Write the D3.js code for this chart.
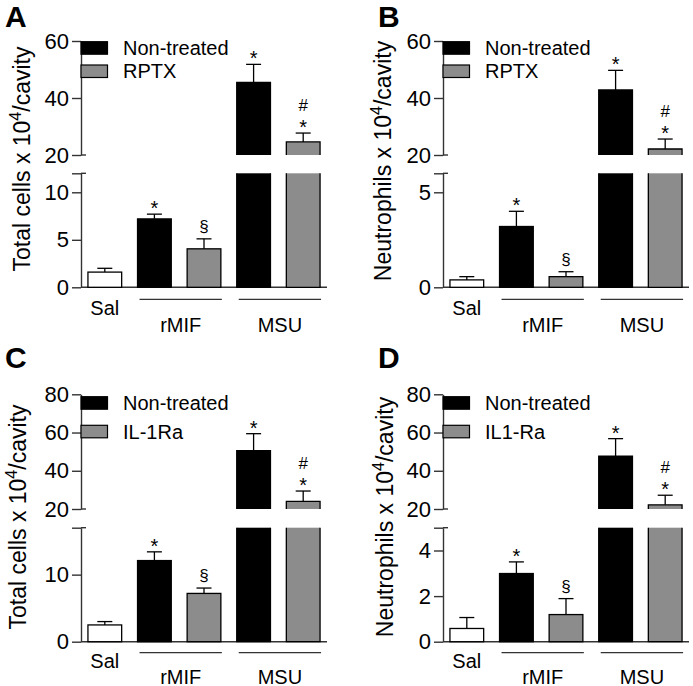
<!DOCTYPE html>
<html>
<head>
<meta charset="utf-8">
<script src="https://cdn.jsdelivr.net/npm/d3@7"></script>
<style>
	body { margin: 0; background: #fff; }
	svg text { font-family: "Liberation Sans", Arial, Helvetica, sans-serif; fill: #000; }
</style>
</head>
<body>
<div id="plot"></div>
<script>
	const w = 693;
	const h = 686;

	// data
	const barKeys = ["Sal", "rMIF_nt", "rMIF_tr", "MSU_nt", "MSU_tr"];
	const groupLabels = ["Sal", "rMIF", "MSU"];
	const panelLetters = ["A", "B", "C", "D"];
	const yTitles = ["Total cells", "Neutrophils", "Total cells", "Neutrophils"];
	const untreatedLabel = "Non-treated";
	const treatedLabels = ["RPTX", "RPTX", "IL-1Ra", "IL1-Ra"];

	const meansA = [1.6, 7.2, 4.05, 45.5, 24.6];
	const semA = [0.4, 0.5, 1.05, 6.3, 3.1];
	const meansB = [0.39, 3.2, 0.56, 42.8, 22.1];
	const semB = [0.17, 0.8, 0.26, 6.9, 3.5];
	const meansC = [2.5, 12.1, 7.2, 50.5, 24.0];
	const semC = [0.5, 1.3, 0.8, 8.9, 5.4];
	const meansD = [0.58, 2.99, 1.19, 47.6, 22.2];
	const semD = [0.48, 0.51, 0.7, 9.2, 5.0];

	const signif = ["", "*", "§", "*", "#*"];

	const upperTicks = [[20, 40, 60], [20, 40, 60], [20, 40, 60, 80], [20, 40, 60, 80]];
	const lowerTicks = [[0, 5, 10], [0, 5], [0, 10], [0, 2, 4]];
	const lowerMax = [12, 6, 17, 5];
	const breakLow = 20;

	const means = [meansA, meansB, meansC, meansD];
	const sems = [semA, semB, semC, semD];

	// layout
	const rows = [
		{upTop: 41, upBottom: 155, loTop: 173.3, base: 287.3, groupLine: 299.3, salY: 315, groupY: 332,
			leg1: 41.7, leg2: 65, letterY: 27},
		{upTop: 394.3, upBottom: 509, loTop: 527.7, base: 641.7, groupLine: 652.7, salY: 668, groupY: 683.5,
			leg1: 396.7, leg2: 425.3, letterY: 368}
	];
	const cols = [
		{axisX: 81, letterX: 5},
		{axisX: 443, letterX: 378}
	];
	const titlePos = [[30, 159], [391, 161], [26, 517], [393, 517]];
	const plotW = 246;

	const fillFor = k => k === "Sal" ? "#fff" : (k.endsWith("_nt") ? "#000" : "#8c8c8c");

	const svg = d3.select("div#plot")
		.append("svg")
		.attr("width", w)
		.attr("height", h);

	svg.append("rect")
		.attr("width", w)
		.attr("height", h)
		.attr("fill", "#fff");

	panelLetters.forEach((letter, i) => drawPanel(i));

	function drawPanel(i) {
		const row = rows[Math.floor(i / 2)];
		const col = cols[i % 2];
		const ax = col.axisX;

		const g = svg.append("g");

		const xScale = d3.scaleBand()
			.domain(barKeys)
			.range([ax, ax + plotW])
			.paddingInner(0.32)
			.paddingOuter(0.14);
		const bw = xScale.bandwidth();

		const upMax = d3.max(upperTicks[i]);
		const yUp = d3.scaleLinear()
			.domain([breakLow, upMax])
			.range([row.upBottom, row.upTop]);
		const yLo = d3.scaleLinear()
			.domain([0, lowerMax[i]])
			.range([row.base, row.loTop]);

		// panel letter
		g.append("text")
			.attr("x", col.letterX)
			.attr("y", row.letterY)
			.attr("font-size", 30)
			.attr("font-weight", "bold")
			.text(panelLetters[i]);

		// y title
		const title = g.append("text")
			.attr("transform", `translate(${titlePos[i][0]}, ${titlePos[i][1]}) rotate(-90)`)
			.attr("text-anchor", "middle")
			.attr("font-size", 23);
		title.append("tspan").text(yTitles[i] + " x 10");
		title.append("tspan").attr("font-size", 16).attr("dy", -9).text("4");
		title.append("tspan").attr("dy", 9).text("/cavity");

		// axes
		const upAxis = d3.axisLeft(yUp)
			.tickValues(upperTicks[i])
			.tickSize(9)
			.tickSizeOuter(0)
			.tickPadding(3);
		const loAxis = d3.axisLeft(yLo)
			.tickValues(lowerTicks[i].concat([lowerMax[i]]))
			.tickFormat(d => d === lowerMax[i] ? "" : d)
			.tickSize(9)
			.tickSizeOuter(0)
			.tickPadding(3);

		[upAxis, loAxis].forEach(a => {
			const ag = g.append("g")
				.attr("transform", `translate(${ax}, 0)`)
				.call(a);
			ag.selectAll("path, line").attr("stroke", "#333").attr("stroke-width", 1.4);
			ag.selectAll("text")
				.attr("font-size", 22)
				.attr("fill", "#000")
				.style("font-family", "\"Liberation Sans\", Arial, sans-serif");
		});

		// little caps at the break
		[yUp(breakLow), yLo(lowerMax[i])].forEach(yy => {
			g.append("line")
				.attr("x1", ax).attr("x2", ax + 5)
				.attr("y1", yy).attr("y2", yy)
				.attr("stroke", "#333").attr("stroke-width", 1.4);
		});

		// baseline
		g.append("line")
			.attr("x1", ax).attr("x2", ax + plotW)
			.attr("y1", row.base).attr("y2", row.base)
			.attr("stroke", "#333").attr("stroke-width", 1.4);

		// bars
		const data = barKeys.map((k, j) => ({key: k, mean: means[i][j], sem: sems[i][j], sig: signif[j]}));

		data.forEach(d => {
			const x0 = xScale(d.key);
			const x1 = x0 + bw;
			const fill = fillFor(d.key);
			const cx = x0 + bw / 2;
			let yTop, yErr;
			if (d.mean <= lowerMax[i]) {
				yTop = yLo(d.mean);
				yErr = yLo(d.mean + d.sem);
				g.append("rect")
					.attr("x", x0).attr("y", yTop)
					.attr("width", bw).attr("height", row.base - yTop)
					.attr("fill", fill)
					.attr("stroke", "#000").attr("stroke-width", 1.3);
			} else {
				yTop = yUp(d.mean);
				yErr = yUp(d.mean + d.sem);
				g.append("rect")
					.attr("x", x0).attr("y", row.loTop)
					.attr("width", bw).attr("height", row.base - row.loTop)
					.attr("fill", fill);
				g.append("path")
					.attr("d", `M${x0},${row.loTop}V${row.base}H${x1}V${row.loTop}`)
					.attr("fill", "none").attr("stroke", "#000").attr("stroke-width", 1.3);
				g.append("rect")
					.attr("x", x0).attr("y", yTop)
					.attr("width", bw).attr("height", row.upBottom - yTop)
					.attr("fill", fill);
				g.append("path")
					.attr("d", `M${x0},${row.upBottom}V${yTop}H${x1}V${row.upBottom}`)
					.attr("fill", "none").attr("stroke", "#000").attr("stroke-width", 1.3);
			}

			// error bar
			g.append("line")
				.attr("x1", cx).attr("x2", cx)
				.attr("y1", yTop).attr("y2", yErr)
				.attr("stroke", "#000").attr("stroke-width", 1.3);
			g.append("line")
				.attr("x1", cx - 7.5).attr("x2", cx + 7.5)
				.attr("y1", yErr).attr("y2", yErr)
				.attr("stroke", "#000").attr("stroke-width", 1.3);

			// significance marks
			if (d.sig.includes("*")) {
				g.append("text")
					.attr("x", cx).attr("y", yErr + 1)
					.attr("text-anchor", "middle")
					.attr("font-size", 20)
					.text("*");
			}
			if (d.sig.includes("#")) {
				g.append("text")
					.attr("x", cx).attr("y", yErr - 22)
					.attr("text-anchor", "middle")
					.attr("font-size", 17)
					.text("#");
			}
			if (d.sig.includes("§")) {
				g.append("text")
					.attr("x", cx).attr("y", yErr - 7)
					.attr("text-anchor", "middle")
					.attr("font-size", 17)
					.text("§");
			}
		});

		// legend
		const legend = [
			{label: untreatedLabel, fill: "#000", y: row.leg1},
			{label: treatedLabels[i], fill: "#8c8c8c", y: row.leg2}
		];
		legend.forEach(l => {
			g.append("rect")
				.attr("x", ax).attr("y", l.y)
				.attr("width", 26.5).attr("height", 12.5)
				.attr("fill", l.fill)
				.attr("stroke", "#000").attr("stroke-width", 1.2);
			g.append("text")
				.attr("x", ax + 42)
				.attr("y", l.y + 6.25 + 7)
				.attr("font-size", 20)
				.text(l.label);
		});

		// group lines and labels
		g.append("text")
			.attr("x", xScale("Sal") + bw / 2)
			.attr("y", row.salY)
			.attr("text-anchor", "middle")
			.attr("font-size", 20)
			.text(groupLabels[0]);

		[["rMIF_nt", "rMIF_tr", groupLabels[1]], ["MSU_nt", "MSU_tr", groupLabels[2]]].forEach(p => {
			const lx0 = xScale(p[0]) + 2;
			const lx1 = xScale(p[1]) + bw + 1;
			g.append("line")
				.attr("x1", lx0).attr("x2", lx1)
				.attr("y1", row.groupLine).attr("y2", row.groupLine)
				.attr("stroke", "#333").attr("stroke-width", 1.3);
			g.append("text")
				.attr("x", (lx0 + lx1) / 2)
				.attr("y", row.groupY)
				.attr("text-anchor", "middle")
				.attr("font-size", 20)
				.text(p[2]);
		});
	}
</script>
</body>
</html>
